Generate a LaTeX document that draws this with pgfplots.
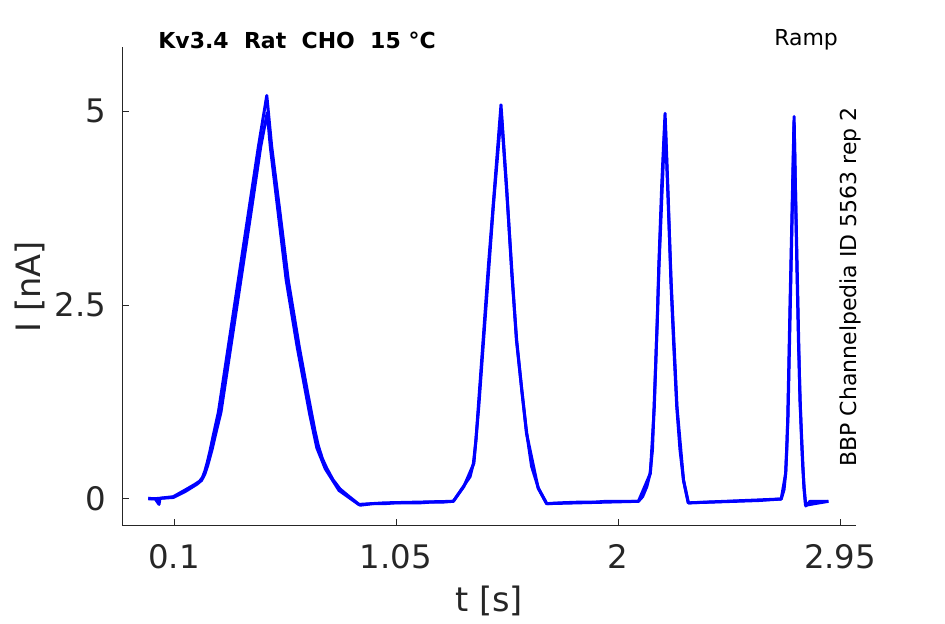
\documentclass[border=0pt]{standalone}
\usepackage{fontspec}
\setmainfont{DejaVu Sans}
\usepackage{pgfplots}
\pgfplotsset{compat=1.18}
\definecolor{axgray}{RGB}{38,38,38}
\definecolor{trace}{RGB}{0,0,255}
\begin{document}
\begin{tikzpicture}
\path[use as bounding box] (-61pt,-49pt) rectangle (411.5pt,263pt);
\begin{axis}[
  at={(0,0)}, anchor=south west,
  scale only axis, width=367pt, height=239.5pt,
  xmin=-0.1225, xmax=3.018, ymin=-0.348, ymax=5.825,
  axis x line*=bottom, axis y line*=left,
  axis line style={draw=axgray, line width=0.5pt},
  xtick={0.1,1.05,2,2.95}, xticklabels={0.1,1.05,2,2.95},
  ytick={0,2.5,5}, yticklabels={0,2.5,5},
  tick align=inside, major tick length=3.5pt,
  tick style={draw=axgray, line width=0.5pt},
  tick label style={font=\fontsize{16.2}{19}\selectfont, text=axgray},
  /pgf/number format/assume math mode=true,
  xticklabel style={yshift=-5.5pt},
  yticklabel style={xshift=-4.5pt},
  xlabel={t [s]}, ylabel={I [nA]},
  label style={font=\fontsize{16.8}{20}\selectfont, text=axgray},
  xlabel style={at={(axis description cs:0.5,-0.1795)}, anchor=base},
  ylabel style={at={(axis description cs:-0.1253,0.5)}, anchor=center},
  clip=false,
]
% sweep 1
\addplot[trace, line width=1.5pt, line join=round] coordinates {
(-0.010,0.01) (0.020,0.00) (0.036,-0.07) (0.040,0.01) (0.070,0.02) (0.097,0.03)
(0.150,0.12) (0.190,0.19) (0.210,0.23) (0.222,0.28) (0.232,0.36) (0.243,0.48)
(0.254,0.62) (0.268,0.82) (0.290,1.12) (0.332,1.96) (0.375,2.82) (0.418,3.68)
(0.461,4.54) (0.497,5.20)
(0.518,4.54) (0.554,3.68) (0.589,2.82) (0.636,1.96) (0.670,1.40) (0.689,1.10)
(0.703,0.88) (0.718,0.68) (0.735,0.52) (0.753,0.40) (0.780,0.25) (0.810,0.13)
(0.850,0.03) (0.896,-0.08)
(0.950,-0.06) (1.000,-0.06) (1.050,-0.05) (1.100,-0.05) (1.150,-0.05) (1.200,-0.04) (1.250,-0.04) (1.295,-0.03)
(1.338,0.16) (1.367,0.29) (1.381,0.46) (1.392,0.76) (1.402,1.19) (1.413,1.65) (1.425,2.15)
(1.445,3.00) (1.466,3.80) (1.499,5.08)
(1.524,3.98) (1.545,2.91) (1.566,2.05) (1.588,1.40) (1.609,0.85) (1.630,0.42) (1.659,0.14) (1.695,-0.06)
(1.750,-0.05) (1.837,-0.04) (1.900,-0.04) (1.950,-0.03) (2.008,-0.03) (2.087,-0.03)
(2.105,0.03) (2.123,0.16) (2.137,0.33) (2.147,0.63) (2.154,1.19) (2.162,1.83) (2.168,2.30)
(2.174,2.99) (2.187,4.07) (2.201,4.97)
(2.215,3.85) (2.226,2.80) (2.237,2.05) (2.251,1.19) (2.265,0.63) (2.280,0.24) (2.301,-0.05)
(2.400,-0.04) (2.500,-0.03) (2.600,-0.02) (2.698,0.00)
(2.710,0.12) (2.717,0.33) (2.722,0.65) (2.726,1.06) (2.731,1.80) (2.736,2.56) (2.745,3.80) (2.753,4.93)
(2.760,3.80) (2.765,2.99) (2.772,2.00) (2.779,1.28) (2.785,0.75) (2.790,0.42) (2.796,0.15) (2.803,-0.09)
(2.821,-0.03) (2.860,-0.03) (2.900,-0.03)
};
% sweep 2 (overlapping)
\addplot[trace, line width=1.5pt, line join=round] coordinates {
(-0.010,0.00) (0.050,0.01) (0.097,0.02)
(0.150,0.10) (0.198,0.19) (0.218,0.24) (0.232,0.32) (0.245,0.44) (0.263,0.64)
(0.280,0.86) (0.301,1.12) (0.343,1.96) (0.386,2.82) (0.429,3.68) (0.471,4.54) (0.499,4.98)
(0.512,4.54) (0.546,3.68) (0.580,2.82) (0.627,1.96) (0.680,1.10)
(0.711,0.66) (0.747,0.39) (0.806,0.11) (0.890,-0.07) (1.000,-0.05)
(1.295,-0.03) (1.340,0.16) (1.383,0.46) (1.404,1.19) (1.427,2.15) (1.467,3.80) (1.500,4.98)
(1.523,3.98) (1.565,2.05) (1.608,0.85) (1.658,0.14) (1.694,-0.06) (2.087,-0.03)
(2.138,0.33) (2.155,1.19) (2.175,2.99) (2.201,4.90) (2.227,2.80) (2.252,1.19) (2.280,0.24) (2.300,-0.05)
(2.698,0.00) (2.717,0.33) (2.727,1.06) (2.753,4.85) (2.778,1.28) (2.795,0.15) (2.802,-0.08) (2.900,-0.03)
};
\node[anchor=west, inner sep=0pt, font=\bfseries\fontsize{11}{13}\selectfont] at (rel axis cs:0.049,1.0146) {Kv3.4\ \ Rat\ \ CHO\ \ 15 °C};
\node[font=\fontsize{11}{13}\selectfont] at (rel axis cs:0.932,1.0146) {Ramp};
\node[rotate=90, font=\fontsize{11}{13}\selectfont] at (rel axis cs:0.992,0.499) {BBP Channelpedia ID 5563 rep 2};
\end{axis}
\end{tikzpicture}
\end{document}
